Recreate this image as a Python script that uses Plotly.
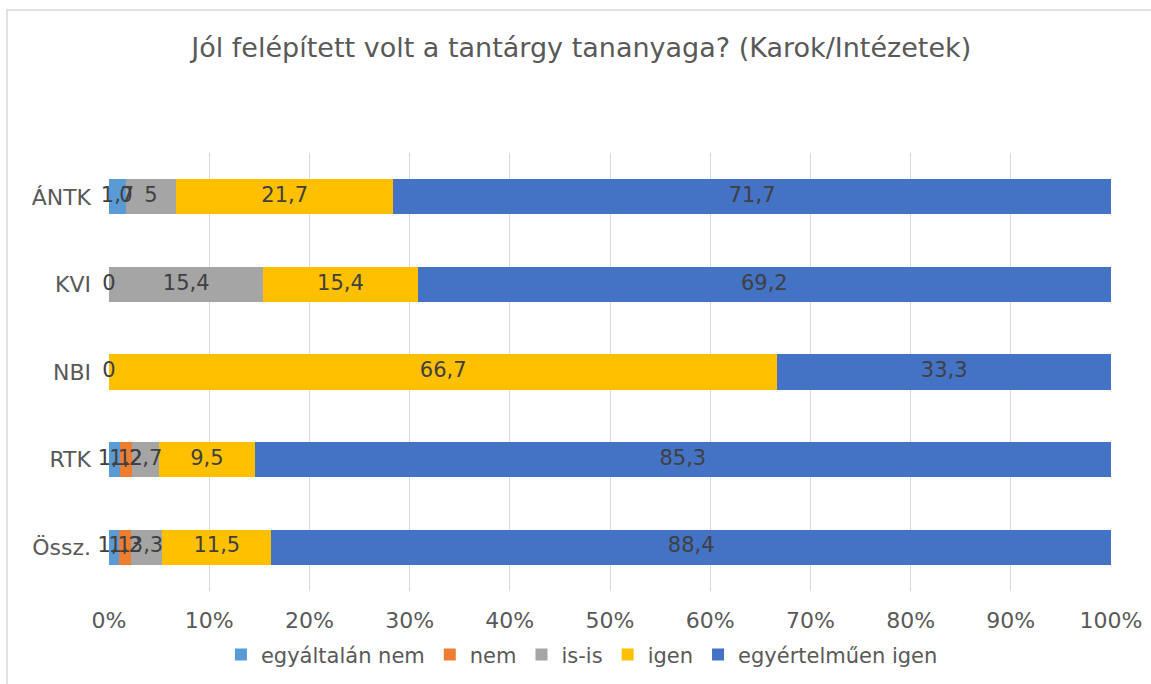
import plotly.graph_objects as go
import numpy as np

categories = ["ÁNTK", "KVI", "NBI", "RTK", "Össz."]
series_names = ["egyáltalán nem", "nem", "is-is", "igen", "egyértelműen igen"]
egyaltalan_nem = [1.7, 0, 0, 1.1, 1.1]
nem = [0, 0, 0, 1.2, 1.2]
is_is = [5, 15.4, 0, 2.7, 3.3]
igen = [21.7, 15.4, 66.7, 9.5, 11.5]
egyertelmuen_igen = [71.7, 69.2, 33.3, 85.3, 88.4]
# which labels Excel shows (blank cells have no label)
show = {
    "egyáltalán nem": [True, True, True, True, True],
    "nem": [True, False, False, True, True],
    "is-is": [True, True, False, True, True],
    "igen": [True, True, True, True, True],
    "egyértelműen igen": [True, True, True, True, True],
}
colors = ["#5B9BD5", "#ED7D31", "#A5A5A5", "#FFC000", "#4472C4"]
xticks = [0, 10, 20, 30, 40, 50, 60, 70, 80, 90, 100]

series = [egyaltalan_nem, nem, is_is, igen, egyertelmuen_igen]
arr = np.array(series, dtype=float)
totals = arr.sum(axis=0)
norm = arr / totals * 100
cum = np.cumsum(norm, axis=0)
mids = cum - norm / 2

FONT = "DejaVu Sans"
fig = go.Figure()
for name, vals, col in zip(series_names, series, colors):
    fig.add_trace(go.Bar(
        y=categories, x=vals, name=name, orientation="h",
        marker=dict(color=col, line=dict(width=0)),
        hoverinfo="skip",
    ))

for i, name in enumerate(series_names):
    xs, ys, ts = [], [], []
    for j, c in enumerate(categories):
        if show[name][j]:
            xs.append(mids[i, j])
            ys.append(c)
            ts.append(f"{series[i][j]:g}".replace(".", ","))
    fig.add_trace(go.Scatter(
        x=xs, y=ys, text=ts, mode="text", showlegend=False,
        textfont=dict(family=FONT, size=21, color="#404040"),
        hoverinfo="skip", cliponaxis=False,
    ))

fig.update_layout(
    barmode="stack", barnorm="percent",
    width=1151, height=684,
    margin=dict(l=109, r=40, t=153, b=93, autoexpand=False),
    paper_bgcolor="white", plot_bgcolor="white",
    bargap=0.6,
    font=dict(family=FONT, color="#595959", size=21),
    title=dict(text="Jól felépített volt a tantárgy tananyaga? (Karok/Intézetek)",
               x=0.505, xanchor="center", y=0.931, yanchor="middle",
               font=dict(family=FONT, size=27, color="#595959")),
    xaxis=dict(range=[0, 100], tickvals=xticks, ticktext=[f"{t}%" for t in xticks],
               showgrid=True, gridcolor="#D9D9D9", gridwidth=1.3, zeroline=False,
               showline=False, ticks="", ticklabelstandoff=14, automargin=False,
               tickfont=dict(family=FONT, size=22, color="#595959")),
    yaxis=dict(categoryorder="array", categoryarray=categories[::-1],
               showgrid=False, zeroline=False, showline=False, ticks="",
               ticklabelstandoff=17, automargin=False,
               tickfont=dict(family=FONT, size=22, color="#595959")),
    legend=dict(orientation="h", x=0.472, xanchor="center", y=-0.146, yanchor="middle",
                font=dict(family=FONT, size=21, color="#595959"),
                traceorder="normal", itemwidth=30),
    shapes=[dict(type="rect", xref="paper", yref="paper",
                 x0=-0.1018, x1=1.2, y0=-0.4, y1=1.3265,
                 line=dict(color="#D9D9D9", width=1.5), fillcolor="rgba(0,0,0,0)",
                 layer="below")],
)
fig.write_html("out.html", post_script="document.body.style.margin='0';",
               config={"displayModeBar": False})
